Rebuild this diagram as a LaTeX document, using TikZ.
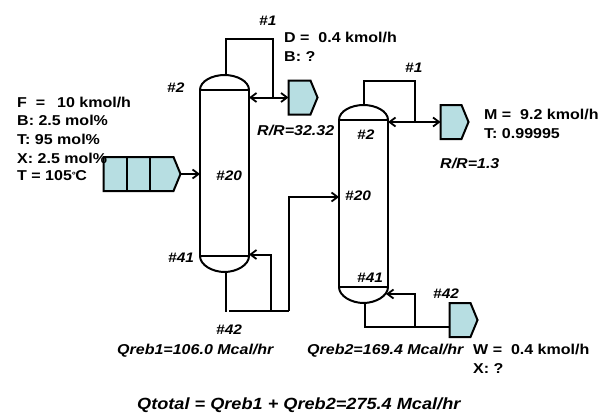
\documentclass[tikz,border=0pt]{standalone}
\usepackage{fontspec}
\setmainfont[FakeStretch=1.12]{Liberation Sans}
\usetikzlibrary{arrows.meta,shapes.symbols}
\definecolor{tank}{RGB}{183,222,226}
\tikzset{
  x=1pt,y=-1pt,
  pipe/.style={line width=2pt,line join=miter},
  tip/.style={-{Straight Barb[length=6pt,width=9pt,line width=1.8pt]}},
  tips/.style={{Straight Barb[length=6pt,width=9pt,line width=1.8pt]}-{Straight Barb[length=6pt,width=9pt,line width=1.8pt]}},
  body/.style={draw,line width=2pt,rectangle,minimum width=49pt,inner sep=0pt,outer sep=0pt},
  tank/.style={draw,line width=2pt,fill=tank,signal,signal to=east,signal pointer angle=135,inner sep=0pt,outer sep=0pt,minimum height=34pt},
  info/.style={anchor=base west,inner sep=0pt,font=\bfseries\fontsize{14.3}{16}\selectfont},
  tag/.style={anchor=base west,inner sep=0pt,font=\bfseries\itshape\fontsize{13.8}{15}\selectfont},
  duty/.style={anchor=base west,inner sep=0pt,font=\bfseries\itshape\fontsize{14.3}{16}\selectfont},
  total/.style={anchor=base west,inner sep=0pt,font=\bfseries\itshape\fontsize{16.2}{18}\selectfont},
}
\begin{document}
\begin{tikzpicture}
\useasboundingbox (0,0) rectangle (601,412);
% column 1
\node[body,minimum height=166pt] (c1) at (224.5,173) {};
\draw[pipe] (c1.north west) .. controls +(0,-9) and +(-12,0) .. (224.5,75) coordinate (c1top) .. controls +(12,0) and +(0,-9) .. (c1.north east);
\draw[pipe] (c1.south west) .. controls +(0,9) and +(-12,0) .. (224.5,272) coordinate (c1bot) .. controls +(12,0) and +(0,9) .. (c1.south east);
% column 2
\node[body,minimum height=167pt] (c2) at (363.5,203.5) {};
\draw[pipe] (c2.north west) .. controls +(0,-9) and +(-12,0) .. (363.5,105) coordinate (c2top) .. controls +(12,0) and +(0,-9) .. (c2.north east);
\draw[pipe] (c2.south west) .. controls +(0,9) and +(-12,0) .. (363.5,303) coordinate (c2bot) .. controls +(12,0) and +(0,9) .. (c2.south east);
% tanks
\node[tank,minimum width=29pt] (d) at (299.5,97.5) {};
\node[tank,minimum width=28pt] (m) at (451,122) {};
\node[tank,minimum width=28pt] (w) at (460,320) {};
\node[tank,minimum width=77pt] (f) at (138.5,174) {};
\draw[pipe] (126.5,157) -- (126.5,191);
\draw[pipe] (150,157) -- (150,191);
% junction points
\coordinate (d1) at (272.5,97.5);
\coordinate (m1) at (415,122);
\coordinate (r1) at (271,311);
\coordinate (r2) at (289,311);
\coordinate (w1) at (415,327);
% connectors
\draw[pipe,tip] (f.east) -- (c1.west |- f.east);
\draw[pipe,tips] (c1.east |- d.west) -- (d.west);
\draw[pipe] (c1top) ++(1.5,0) |- (d1 |- 0,39.5) -- (d1);
\draw[pipe,tips] (c2.east |- m.west) -- (m.west);
\draw[pipe] (c2top) ++(0.5,0) |- (m1 |- 0,81) -- (m1);
\draw[pipe] (226,272) -- (226,312);
\draw[pipe] (229,311) -- (r2);
\draw[pipe,tip] (r1) |- (c1.east |- 0,254.5);
\draw[pipe,tip] (r2) |- (c2.west |- 0,197);
\draw[pipe] (365,303) |- (w.west |- w1);
\draw[pipe,tip] (w1) |- (386,294);
% texts
\node[info] (t1) at (17,107) {F\ \ =\kern1.5pt\ \ \kern1.5pt 10 kmol/h};
\node[info] (t2) at (17,125) {B: 2.5 mol\%};
\node[info] (t3) at (17,144) {T: 95 mol\%};
\node[info] (t4) at (17,163) {X: 2.5 mol\%};
\node[info] (t5) at (17,180) {T = 105\raisebox{2pt}{\fontsize{9}{9}\selectfont °}\kern-0.5pt C};
\node[info] (t6) at (284,42) {D =\ \ 0.4 kmol/h};
\node[info] (t7) at (284,61) {B: ?};
\node[info] (t8) at (484,119) {M =\ \ 9.2 kmol/h};
\node[info] (t9) at (484,138) {T: 0.99995};
\node[info] (t10) at (473,354) {W =\ \ 0.4 kmol/h};
\node[info] (t11) at (473,373) {X: ?};
\node[tag] (a1) at (259,26) {\#1};
\node[tag] (a2) at (167,92) {\#2};
\node[tag] (a3) at (216,180) {\#20};
\node[tag] (a4) at (168,262) {\#41};
\node[tag] (a5) at (216,334) {\#42};
\node[tag] (b1) at (405,72) {\#1};
\node[tag] (b2) at (357,139) {\#2};
\node[tag] (b3) at (345,200) {\#20};
\node[tag] (b4) at (357,282) {\#41};
\node[tag] (b5) at (433,298) {\#42};
\node[duty] (r3) at (257,135) {R/R=32.32};
\node[duty] (r4) at (440,168) {R/R=1.3};
\node[duty] (q1) at (117,354) {Qreb1=106.0 Mcal/hr};
\node[duty] (q2) at (307,354) {Qreb2=169.4 Mcal/hr};
\node[total] (q3) at (137,409) {Qtotal = Qreb1 + Qreb2=275.4 Mcal/hr};
\end{tikzpicture}
\end{document}
